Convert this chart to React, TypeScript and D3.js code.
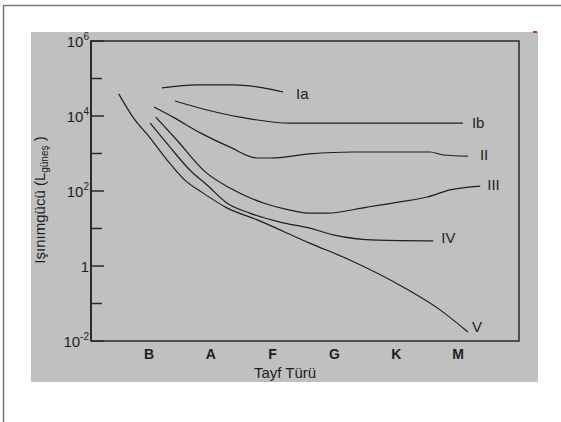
import * as d3 from "d3";

// spectral classes, positioned at 0..5 on the x axis
const classes = ["B", "A", "F", "G", "K", "M"];

// y ticks as decade exponents; labelled ones get a text
const decades = [-2, -1, 0, 1, 2, 3, 4, 5, 6];
const labelled: Record<number, string> = { [-2]: "-2", 0: "", 2: "2", 4: "4", 6: "6" };

// luminosity classes: [spectral position, log10(L/Lsun)]
const seriesIa: [number, number][] = [
  [0.21, 4.75], [0.78, 4.83], [1.36, 4.83], [1.85, 4.75], [2.17, 4.64],
];
const seriesIb: [number, number][] = [
  [0.42, 4.4], [0.94, 4.16], [1.47, 3.97], [2.28, 3.81], [5.08, 3.81],
];
const seriesII: [number, number][] = [
  [0.08, 4.24], [0.39, 3.97], [0.83, 3.55], [1.31, 3.17], [1.75, 2.88], [1.96, 2.88],
  [2.6, 2.99], [3.29, 3.04], [4.55, 3.04], [4.76, 2.96], [5.16, 2.93],
];
const seriesIII: [number, number][] = [
  [0.11, 3.97], [0.45, 3.36], [0.91, 2.51], [1.31, 2.08], [1.85, 1.68], [2.28, 1.49],
  [2.6, 1.41], [2.88, 1.41], [3.53, 1.57], [4.06, 1.71], [4.5, 1.84], [4.87, 2.03], [5.36, 2.13],
];
const seriesIV: [number, number][] = [
  [0.02, 3.81], [0.34, 3.17], [0.66, 2.56], [0.94, 2.16], [1.26, 1.68], [1.63, 1.41],
  [2.12, 1.17], [2.6, 1.01], [2.98, 0.83], [3.69, 0.69], [4.6, 0.67],
];
const seriesV: [number, number][] = [
  [-0.49, 4.59], [-0.26, 3.97], [0.02, 3.41], [0.29, 2.83], [0.58, 2.29], [0.87, 1.95],
  [1.26, 1.55], [1.75, 1.23], [2.6, 0.61], [3.25, 0.16], [4.11, -0.56], [4.71, -1.17], [5.16, -1.76],
];

const series = [
  { name: "Ia", data: seriesIa, dx: 13, dy: 2 },
  { name: "Ib", data: seriesIb, dx: 9, dy: 0 },
  { name: "II", data: seriesII, dx: 12, dy: -1 },
  { name: "III", data: seriesIII, dx: 7, dy: -1 },
  { name: "IV", data: seriesIV, dx: 8, dy: -3 },
  { name: "V", data: seriesV, dx: 4, dy: -5 },
];

const W = 561;
const H = 422;
const plot = { left: 91, right: 519, top: 41, bottom: 341 };
const font = "'Liberation Sans', Arial, sans-serif";
const ink = "#1e1e1e";

export default function App() {
  const x = d3.scaleLinear().domain([0, 5]).range([149, 458]);
  const y = d3.scaleLinear().domain([-2, 6]).range([plot.bottom, plot.top]);

  const line = d3
    .line<[number, number]>()
    .x((d) => x(d[0]))
    .y((d) => y(d[1]))
    .curve(d3.curveMonotoneX);

  return (
    <svg
      width={W}
      height={H}
      style={{ position: "absolute", left: 0, top: 0, background: "#fff" }}
      fontFamily={font}
    >
      {/* outer frame */}
      <path d={`M3.5,${H + 2}V5.5H${W + 2}`} fill="none" stroke="#7a7a7a" strokeWidth={1.5} />
      {/* gray panel */}
      <rect x={31} y={32} width={507} height={350} fill="#c0c0c0" />
      <rect x={533} y={31} width={4} height={2} fill="#c0303a" />

      {/* plot box */}
      <rect
        x={plot.left}
        y={plot.top}
        width={plot.right - plot.left}
        height={plot.bottom - plot.top}
        fill="none"
        stroke="#2a2a2a"
        strokeWidth={1.5}
      />
      <line x1={plot.left} x2={plot.left} y1={plot.top} y2={plot.bottom} stroke="#2a2a2a" strokeWidth={2} />

      {/* y ticks */}
      {decades.map((e) => (
        <g key={e}>
          <line
            x1={plot.left}
            x2={plot.left + (e in labelled ? 13 : 11)}
            y1={y(e)}
            y2={y(e)}
            stroke="#2a2a2a"
            strokeWidth={1.5}
          />
          {e in labelled && (
            <text x={plot.left - 2} y={y(e) + 6} textAnchor="end" fontSize={15} fill={ink}>
              {e === 0 ? (
                "1"
              ) : (
                <>
                  10
                  <tspan fontSize={10} dy={-7}>
                    {labelled[e]}
                  </tspan>
                </>
              )}
            </text>
          )}
        </g>
      ))}

      {/* y label */}
      <text
        transform={`translate(45, 200) rotate(-90)`}
        textAnchor="middle"
        fontSize={15}
        fill={ink}
      >
        Işınımgücü (L
        <tspan fontSize={10} dy={3}>
          güneş
        </tspan>
        <tspan dy={-3}> )</tspan>
      </text>

      {/* x categories */}
      {classes.map((c, i) => (
        <text key={c} x={x(i)} y={359} textAnchor="middle" fontSize={14} fontWeight="bold" fill={ink}>
          {c}
        </text>
      ))}
      <text x={285} y={378} textAnchor="middle" fontSize={15} fill={ink}>
        Tayf Türü
      </text>

      {/* curves */}
      {series.map((s) => {
        const last = s.data[s.data.length - 1];
        return (
          <g key={s.name}>
            <path d={line(s.data) || undefined} fill="none" stroke={ink} strokeWidth={1.2} />
            <text
              x={x(last[0]) + s.dx}
              y={y(last[1]) + s.dy + 5}
              fontSize={15}
              fill={ink}
            >
              {s.name}
            </text>
          </g>
        );
      })}
    </svg>
  );
}
